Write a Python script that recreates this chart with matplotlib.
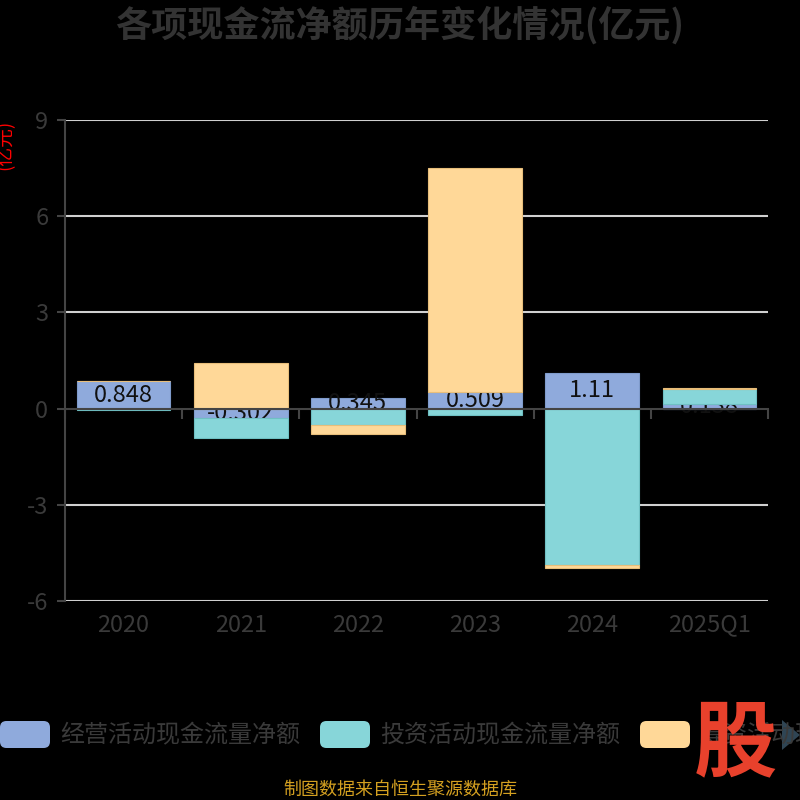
import numpy as np
import matplotlib
matplotlib.use("Agg")
import matplotlib.pyplot as plt
from matplotlib.patches import FancyBboxPatch, Polygon
import matplotlib.transforms as mtransforms

plt.rcParams['font.family'] = ['Noto Sans CJK SC', 'DejaVu Sans']
plt.rcParams['axes.unicode_minus'] = False

categories = ["2020", "2021", "2022", "2023", "2024", "2025Q1"]
operating = [0.848, -0.302, 0.345, 0.509, 1.11, 0.138]
investing = [-0.04, -0.62, -0.51, -0.20, -4.89, 0.46]
financing = [0.0, 1.42, -0.29, 7.00, -0.08, 0.03]
series_names = ["经营活动现金流量净额", "投资活动现金流量净额", "筹资活动现金流量净额"]
colors = ["#8FAADC", "#87D6D9", "#FFD898"]
edges = ["#7F9BCB", "#6FC0C3", "#E8BE7A"]
yticks = [-6, -3, 0, 3, 6, 9]

fig = plt.figure(figsize=(8, 8), dpi=100, facecolor="black")
ax = fig.add_axes([65/800, 1-601/800, (768-65)/800, (601-120)/800])
ax.set_facecolor("black")

x = np.arange(len(categories))
pos_base = np.zeros(len(categories))
neg_base = np.zeros(len(categories))
all_series = [operating, investing, financing]
for i, vals in enumerate(all_series):
    vals = np.array(vals, dtype=float)
    bottoms = np.where(vals >= 0, pos_base, neg_base)
    ax.bar(x, vals, 0.8, bottom=bottoms, color=colors[i], edgecolor=edges[i],
           linewidth=0.8, zorder=2 if i == 0 else 3)
    if i == 0:
        for xi, v, b in zip(x, vals, bottoms):
            ax.text(xi, b + v/2, f"{v:g}", ha="center", va="center", fontsize=17,
                    color="#111111", zorder=2.5)
    pos_base = pos_base + np.where(vals >= 0, vals, 0)
    neg_base = neg_base + np.where(vals < 0, vals, 0)

ax.set_xlim(-0.5, len(categories) - 0.5)
ax.set_ylim(-6, 9)
ax.set_yticks(yticks)
ax.set_yticklabels([str(t) for t in yticks])
ax.tick_params(axis="y", length=6, width=1.5, color="#444444", labelcolor="#3a3a3a",
               labelsize=17, pad=6)
for t in yticks:
    if t != 0:
        ax.axhline(t, color="#d0d0d0", linewidth=1.5, zorder=1)

ax.spines["bottom"].set_position(("data", 0))
ax.spines["bottom"].set_color("#444444")
ax.spines["bottom"].set_linewidth(1.5)
ax.spines["bottom"].set_zorder(4)
ax.spines["left"].set_color("#444444")
ax.spines["left"].set_linewidth(1.5)
ax.spines["top"].set_visible(False)
ax.spines["right"].set_visible(False)

ax.set_xticks(x)
ax.set_xticklabels([])
ax.tick_params(axis="x", which="major", length=0)
ax.set_xticks(np.arange(len(categories) + 1) - 0.5, minor=True)
ax.tick_params(axis="x", which="minor", length=7, width=1.5, color="#444444", direction="out")

trans = mtransforms.blended_transform_factory(ax.transData, ax.transAxes)
for xi, c in zip(x, categories):
    ax.text(xi, -0.05, c, transform=trans, ha="center", va="center", fontsize=17,
            color="#3a3a3a")

fig.text(400/800, 1-25/800, "各项现金流净额历年变化情况(亿元)", ha="center", va="center",
         fontsize=26, fontweight="bold", color="#333333")
fig.text(5/800, 1-145/800, "(亿元)", ha="center", va="center", rotation=90,
         fontsize=13.5, color="#ff0000")

# legend
leg_x = [0, 320, 640]
for lx, name, col in zip(leg_x, series_names, colors):
    p = FancyBboxPatch((lx/800, 1-748/800), 50/800, 27/800,
                       boxstyle="round,pad=0,rounding_size=0.008",
                       transform=fig.transFigure, facecolor=col, edgecolor="none")
    fig.patches.append(p)
    fig.text((lx + 60)/800, 1-735/800, name, ha="left", va="center", fontsize=17.3,
             color="#3a3a3a")

fig.text(735/800, 1-745/800, "股", ha="center", va="center", fontsize=60,
         fontweight="black", color="#E8412C", style="italic")
tri = Polygon([[782/800, 1-720/800], [800/800, 1-735/800], [782/800, 1-750/800]],
              closed=True, transform=fig.transFigure, facecolor="#2F4554", edgecolor="none")
fig.patches.append(tri)

fig.text(400/800, 1-790/800, "制图数据来自恒生聚源数据库", ha="center", va="center",
         fontsize=13, color="#D4A020")

fig.savefig("out.png", dpi=100, facecolor="black")
